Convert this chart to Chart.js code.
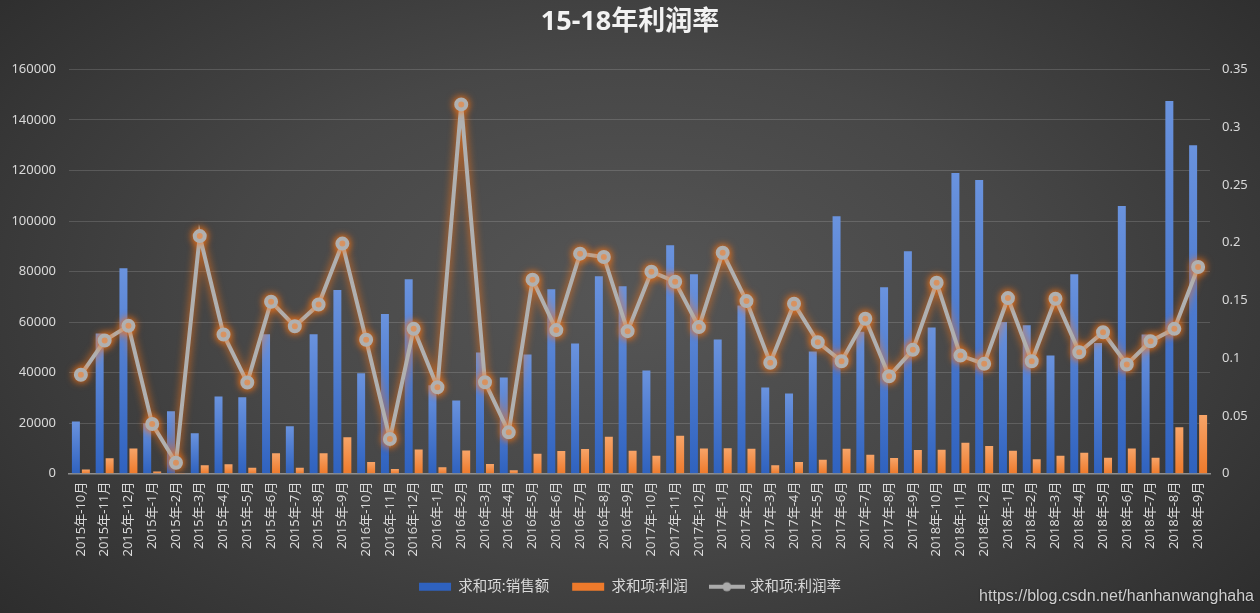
<!DOCTYPE html>
<html>
<head>
<meta charset="utf-8">
<script src="https://cdn.jsdelivr.net/npm/chart.js@4.4.1/dist/chart.umd.min.js"></script>
<style>
  html, body { margin: 0; padding: 0; }
  body {
    width: 1260px; height: 613px; overflow: hidden;
    background: radial-gradient(ellipse 70% 85% at 50% 48%, #565656 0%, #474747 45%, #2a2a2a 100%);
  }
  canvas { display: block; }
</style>
</head>
<body>
<canvas id="myChart" width="1260" height="613"></canvas>
<script>
// month labels, in the order the sheet lists them
const categories = [
  '2015年-10月', '2015年-11月', '2015年-12月', '2015年-1月', '2015年-2月', '2015年-3月',
  '2015年-4月', '2015年-5月', '2015年-6月', '2015年-7月', '2015年-8月', '2015年-9月',
  '2016年-10月', '2016年-11月', '2016年-12月', '2016年-1月', '2016年-2月', '2016年-3月',
  '2016年-4月', '2016年-5月', '2016年-6月', '2016年-7月', '2016年-8月', '2016年-9月',
  '2017年-10月', '2017年-11月', '2017年-12月', '2017年-1月', '2017年-2月', '2017年-3月',
  '2017年-4月', '2017年-5月', '2017年-6月', '2017年-7月', '2017年-8月', '2017年-9月',
  '2018年-10月', '2018年-11月', '2018年-12月', '2018年-1月', '2018年-2月', '2018年-3月',
  '2018年-4月', '2018年-5月', '2018年-6月', '2018年-7月', '2018年-8月', '2018年-9月'
];

// 求和项:销售额
const sales = [
  20700, 55500, 81300, 20000, 24700, 16000, 30600, 30300, 55200, 18800, 55200, 72700,
  39800, 63200, 77000, 35000, 29000, 48000, 38100, 47200, 73000, 51500, 78100, 74200,
  40800, 90400, 78900, 53100, 66600, 34100, 31700, 48400, 101900, 56200, 73800, 88000,
  57900, 119000, 116200, 60000, 58700, 46800, 78900, 51700, 105900, 55100, 147500, 130000
];

// 求和项:利润
const profit = [
  1700, 6100, 10000, 860, 240, 3300, 3700, 2400, 8100, 2400, 8100, 14400,
  4600, 1900, 9600, 2600, 9200, 3800, 1360, 7900, 9000, 9800, 14600, 9100,
  7100, 15000, 10000, 10100, 9900, 3300, 4600, 5500, 9900, 7500, 6200, 9400,
  9500, 12200, 11000, 9100, 5700, 7100, 8300, 6300, 10000, 6300, 18400, 23200
];

// 求和项:利润率
const rate = [
  0.0856, 0.1153, 0.128, 0.043, 0.0095, 0.2057, 0.1205, 0.0789, 0.1489, 0.1277, 0.1465, 0.1992,
  0.1159, 0.0301, 0.1254, 0.0748, 0.3197, 0.0792, 0.0358, 0.168, 0.1243, 0.1905, 0.1876, 0.1234,
  0.1749, 0.1662, 0.1269, 0.1913, 0.1494, 0.096, 0.1471, 0.1139, 0.0974, 0.1341, 0.0844, 0.1072,
  0.1653, 0.1023, 0.0951, 0.152, 0.0974, 0.1515, 0.1052, 0.1225, 0.0945, 0.1147, 0.1254, 0.1789
];

const leftTicks = [0, 20000, 40000, 60000, 80000, 100000, 120000, 140000, 160000];
const rightTicks = [0, 0.05, 0.1, 0.15, 0.2, 0.25, 0.3, 0.35];

Chart.defaults.font.family = "'Noto Sans', 'Noto Sans CJK SC', sans-serif";
Chart.defaults.font.size = 13;
Chart.defaults.color = '#d9d9d9';

// gradient per bar, light at the top and darker at the base
function barGradient(light, dark) {
  return function(context) {
    const chart = context.chart;
    const area = chart.chartArea;
    if (!area || context.type !== 'data') return dark;
    const y = chart.scales.y.getPixelForValue(context.raw);
    const top = Math.min(y, area.bottom - 1);
    const g = chart.ctx.createLinearGradient(0, top, 0, area.bottom);
    g.addColorStop(0, light);
    g.addColorStop(1, dark);
    return g;
  };
}

// little line-with-dot icon for the legend
const lineIcon = document.createElement('canvas');
lineIcon.width = 36;
lineIcon.height = 12;
(function() {
  const c = lineIcon.getContext('2d');
  c.strokeStyle = '#ababab';
  c.lineWidth = 4;
  c.beginPath();
  c.moveTo(0, 6);
  c.lineTo(36, 6);
  c.stroke();
  c.fillStyle = '#ababab';
  c.beginPath();
  c.arc(18, 6, 4.5, 0, Math.PI * 2);
  c.fill();
})();

// orange glow under the rate line
const glowPlugin = {
  id: 'glow',
  beforeDatasetDraw(chart, args) {
    if (args.index !== 2) return;
    const ctx = chart.ctx;
    ctx.save();
    ctx.shadowColor = 'rgba(255, 118, 20, 1)';
    ctx.shadowBlur = 8;
  },
  afterDatasetDraw(chart, args) {
    if (args.index !== 2) return;
    chart.ctx.restore();
  }
};

// watermark bottom right
const watermarkPlugin = {
  id: 'watermark',
  afterDraw(chart) {
    const ctx = chart.ctx;
    ctx.save();
    ctx.font = "16px 'Liberation Sans', sans-serif";
    ctx.fillStyle = '#cfcfcf';
    ctx.textAlign = 'right';
    ctx.textBaseline = 'alphabetic';
    ctx.shadowColor = 'rgba(0,0,0,0.6)';
    ctx.shadowBlur = 2;
    ctx.fillText('https://blog.csdn.net/hanhanwanghaha', 1254, 601);
    ctx.restore();
  }
};

const myChart = document.getElementById('myChart');

let comboChart = new Chart(myChart, {
  type: 'bar',
  data: {
    labels: categories,
    datasets: [
      {
        label: '求和项:销售额',
        data: sales,
        yAxisID: 'y',
        order: 1,
        backgroundColor: barGradient('#6a93de', '#2f62bf'),
        categoryPercentage: 0.84,
        barPercentage: 0.8
      },
      {
        label: '求和项:利润',
        data: profit,
        yAxisID: 'y',
        order: 1,
        backgroundColor: barGradient('#f7a468', '#ee7a2b'),
        categoryPercentage: 0.84,
        barPercentage: 0.8
      },
      {
        type: 'line',
        label: '求和项:利润率',
        data: rate,
        yAxisID: 'y1',
        order: 0,
        borderColor: '#b0b0b0',
        backgroundColor: '#b0b0b0',
        borderWidth: 4,
        pointRadius: 5,
        pointBackgroundColor: '#b0b0b0',
        pointBorderColor: '#b0b0b0',
        tension: 0
      }
    ]
  },
  options: {
    responsive: false,
    animation: false,
    layout: { padding: { left: 0, right: 0, top: 0, bottom: 9 } },
    plugins: {
      title: {
        display: true,
        text: '15-18年利润率',
        color: '#f2f2f2',
        font: { size: 27, weight: 'bold' },
        padding: { top: 6, bottom: 31 }
      },
      legend: {
        position: 'bottom',
        labels: {
          color: '#d9d9d9',
          font: { size: 14.5 },
          usePointStyle: true,
          pointStyleWidth: 32,
          boxHeight: 8,
          padding: 23,
          sort: (a, b) => a.datasetIndex - b.datasetIndex,
          generateLabels(chart) {
            const items = Chart.defaults.plugins.legend.labels.generateLabels(chart);
            items.forEach(item => {
              item.pointStyle = item.datasetIndex === 2 ? lineIcon : 'rect';
              item.lineWidth = 0;
              item.strokeStyle = 'transparent';
            });
            return items;
          }
        }
      },
      tooltip: { enabled: false }
    },
    scales: {
      x: {
        offset: true,
        afterFit(scale) { scale.height -= 8; },
        grid: { display: false, drawTicks: false },
        border: { display: true, color: '#8f8f8f', width: 1.5 },
        ticks: {
          color: '#d9d9d9',
          font: { size: 13 },
          maxRotation: 90,
          minRotation: 90,
          autoSkip: false,
          padding: 8
        }
      },
      y: {
        position: 'left',
        min: 0,
        max: 160000,
        afterFit(scale) { scale.width = 69; },
        afterBuildTicks(scale) { scale.ticks = leftTicks.map(v => ({ value: v })); },
        grid: { color: 'rgba(255,255,255,0.15)', drawTicks: false },
        border: { display: false },
        ticks: { color: '#d9d9d9', padding: 13, font: { size: 13 }, callback: v => String(v) }
      },
      y1: {
        position: 'right',
        min: 0,
        max: 0.35,
        afterFit(scale) { scale.width = 50; },
        afterBuildTicks(scale) { scale.ticks = rightTicks.map(v => ({ value: v })); },
        grid: { drawOnChartArea: false, drawTicks: false },
        border: { display: false },
        ticks: { color: '#d9d9d9', padding: 12, font: { size: 13 }, callback: v => String(v) }
      }
    }
  },
  plugins: [glowPlugin, watermarkPlugin]
});
</script>
</body>
</html>
